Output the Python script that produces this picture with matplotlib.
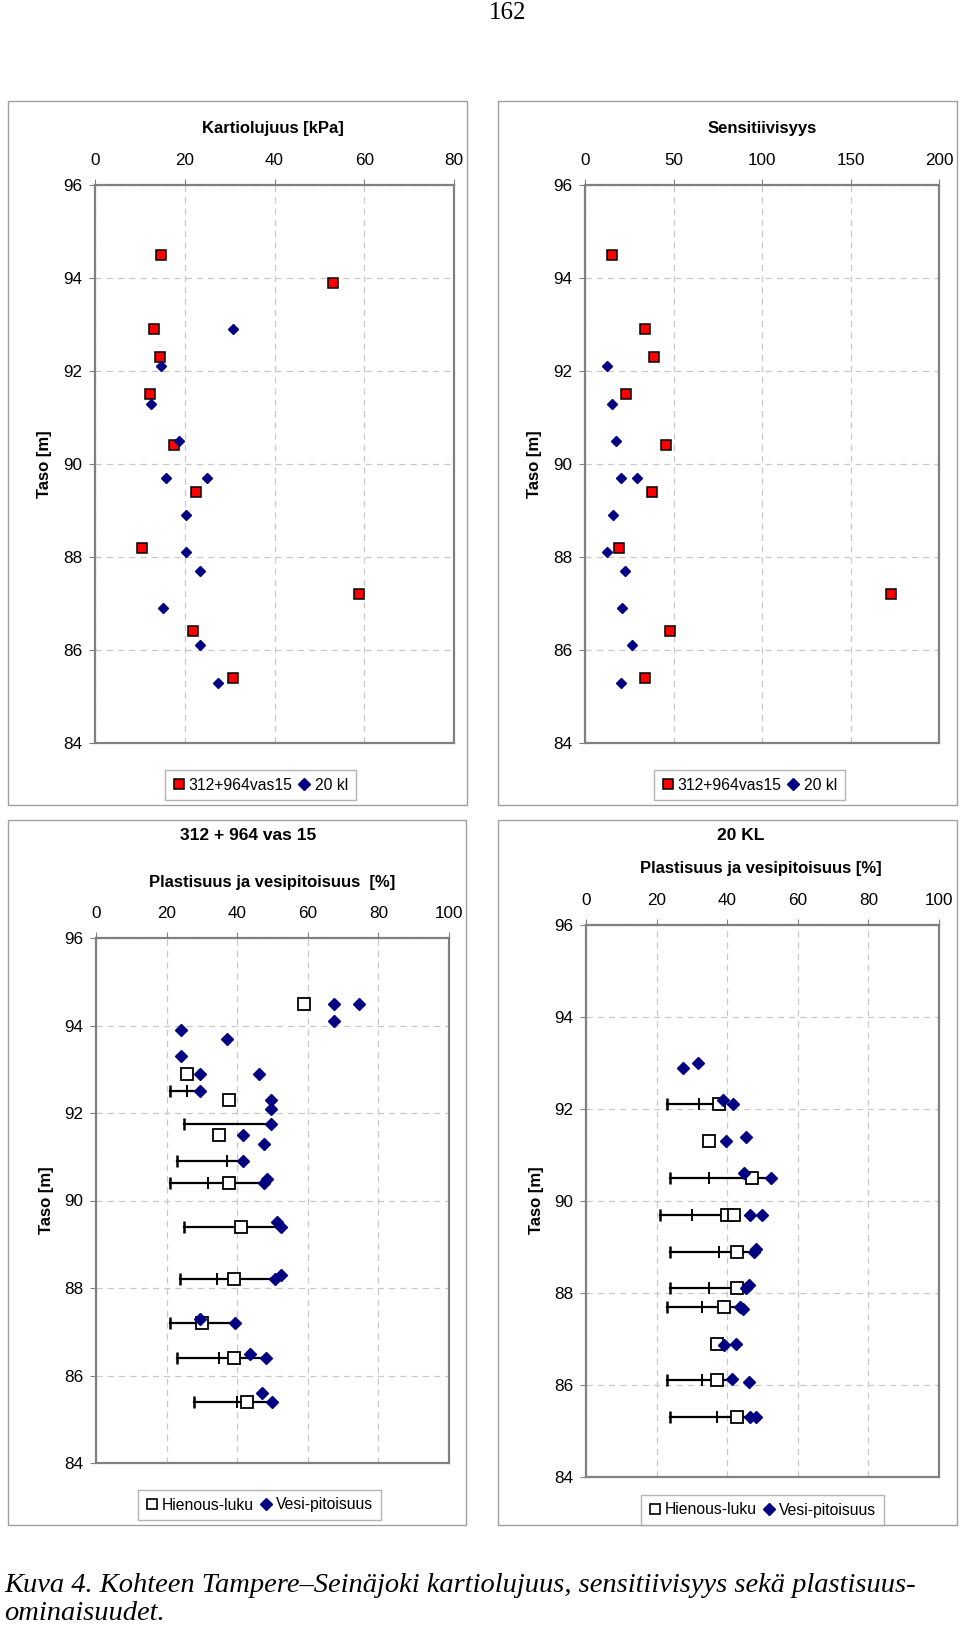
import numpy as np
import matplotlib
matplotlib.use("Agg")
from matplotlib import pyplot as plt
from matplotlib.patches import Rectangle
from matplotlib.lines import Line2D

plt.rcParams['font.family'] = ['Liberation Sans', 'DejaVu Sans']

# ---------------- data ----------------
# Kartiolujuus [kPa]
kart_vas_y = [94.5, 93.9, 92.9, 92.3, 91.5, 90.4, 89.4, 88.2, 87.2, 86.4, 85.4]
kart_vas_x = [14.8, 53.0, 13.1, 14.5, 12.2, 17.6, 22.6, 10.5, 58.8, 21.9, 30.7]
kart_kl_y = [92.9, 92.1, 91.3, 90.5, 89.7, 89.7, 88.9, 88.1, 87.7, 86.9, 86.1, 85.3]
kart_kl_x = [30.7, 14.8, 12.5, 18.7, 15.8, 24.9, 20.3, 20.3, 23.5, 15.1, 23.5, 27.4]

# Sensitiivisyys
sens_vas_y = [94.5, 92.9, 92.3, 91.5, 90.4, 89.4, 88.2, 87.2, 86.4, 85.4]
sens_vas_x = [15.2, 33.9, 38.9, 23.3, 45.7, 38.0, 19.2, 172.9, 48.0, 33.9]
sens_kl_y = [92.1, 91.3, 90.5, 89.7, 89.7, 88.9, 88.1, 87.7, 86.9, 86.1, 85.3]
sens_kl_x = [12.6, 15.2, 17.5, 20.1, 29.2, 16.0, 12.6, 22.6, 20.9, 26.7, 20.1]

# Plastisuus ja vesipitoisuus, 312 + 964 vas 15
hien_vas_y = [94.5, 92.9, 92.3, 91.5, 90.4, 89.4, 88.2, 87.2, 86.4, 85.4]
hien_vas_x = [58.8, 25.9, 37.8, 34.9, 37.8, 41.1, 39.0, 29.9, 39.0, 42.7]
vesi_vas_y = [94.5, 94.5, 94.1, 93.9, 93.7, 93.3, 92.9, 92.9, 92.5, 92.3, 92.1, 91.75,
              91.5, 91.3, 90.9, 90.5, 90.4, 89.5, 89.4, 88.3, 88.2, 87.3, 87.2, 86.5,
              86.4, 85.6, 85.4]
vesi_vas_x = [67.5, 74.5, 67.5, 24.2, 37.1, 24.2, 29.6, 46.1, 29.6, 49.5, 49.5, 49.5,
              41.7, 47.7, 41.7, 48.4, 47.7, 51.3, 52.3, 52.3, 50.7, 29.6, 39.5, 43.6,
              48.1, 46.9, 49.8]
raja_vas_y = [92.5, 91.75, 90.9, 90.4, 89.4, 88.2, 87.2, 86.4, 85.4]
raja_vas_lo = [21.0, 25.0, 23.0, 21.0, 25.0, 23.8, 21.0, 23.0, 27.9]
raja_vas_mid = [25.9, np.nan, 37.1, 31.8, 41.1, 34.2, 29.9, 34.9, 39.9]
raja_vas_hi = [29.6, 49.5, 41.7, 47.7, 52.3, 50.7, 39.5, 48.1, 49.8]

# Plastisuus ja vesipitoisuus, 20 KL
hien_kl_y = [92.1, 91.3, 90.5, 89.7, 89.7, 88.9, 88.1, 87.7, 86.9, 86.1, 85.3]
hien_kl_x = [37.8, 34.9, 46.9, 39.9, 41.9, 42.8, 42.8, 39.1, 37.0, 37.0, 42.8]
vesi_kl_y = [92.9, 93.0, 92.2, 92.1, 91.3, 91.4, 90.6, 90.5, 89.7, 89.7, 88.9, 88.95,
             88.1, 88.17, 87.7, 87.65, 86.86, 86.9, 86.12, 86.07, 85.3, 85.3]
vesi_kl_x = [27.6, 31.6, 38.8, 41.7, 39.6, 45.2, 44.9, 52.3, 46.6, 49.9, 47.5, 48.1,
             45.4, 46.3, 43.7, 44.5, 39.1, 42.4, 41.4, 46.3, 46.6, 48.2]
raja_kl_y = [92.1, 90.5, 89.7, 88.9, 88.1, 87.7, 86.1, 85.3]
raja_kl_lo = [22.9, 23.9, 21.1, 23.9, 23.9, 22.9, 22.9, 23.9]
raja_kl_mid = [32.0, 34.9, 30.0, 37.8, 34.9, 32.9, 32.9, 37.0]
raja_kl_hi = [37.8, 52.3, 39.9, 47.5, 45.4, 43.7, 41.4, 46.6]

W, H = 960, 1627
RED = '#ff0000'
NAVY = '#000080'
GRIDC = '#c8c8c8'
AXC = '#808080'
TICKFS = 12.3

fig = plt.figure(figsize=(W / 100, H / 100), dpi=100)


def px_rect(x0, y0, x1, y1):
    return [x0 / W, 1 - y1 / H, (x1 - x0) / W, (y1 - y0) / H]


def fx(x):
    return x / W


def fy(y):
    return 1 - y / H


def frame(x0, y0, x1, y1):
    fig.patches.append(Rectangle((fx(x0), fy(y1)), (x1 - x0) / W, (y1 - y0) / H,
                                 transform=fig.transFigure, fill=False,
                                 edgecolor='#a0a0a0', lw=1.0))


def style_axes(ax, xmax, xstep):
    ax.set_xlim(0, xmax)
    ax.set_ylim(84, 96)
    ax.set_xticks(np.arange(0, xmax + 1, xstep))
    ax.set_yticks(np.arange(84, 97, 2))
    ax.xaxis.tick_top()
    ax.tick_params(axis='x', direction='out', length=4, pad=8, labelsize=TICKFS,
                   color=AXC, top=True, bottom=False)
    ax.tick_params(axis='y', direction='out', length=4, pad=5, labelsize=TICKFS,
                   color=AXC)
    for s in ax.spines.values():
        s.set_color(AXC)
        s.set_linewidth(1.6)
    ax.grid(True, color=GRIDC, linestyle=(0, (5, 4)), linewidth=0.9)
    ax.set_axisbelow(True)


def red_blue(ax, xr, yr, xb, yb):
    ax.plot(xr, yr, ls='none', marker='s', ms=7, mfc=RED, mec='black', mew=1.1, zorder=3)
    ax.plot(xb, yb, ls='none', marker='D', ms=5.5, mfc=NAVY, mec=NAVY, zorder=3)


def plast(ax, hx, hy, vx, vy, by, lo, mid, hi):
    for y, a, m, b in zip(by, lo, mid, hi):
        ax.plot([a, b], [y, y], color='black', lw=1.6, zorder=2)
        ax.plot([a], [y], ls='none', marker='|', ms=9, mew=1.8, color='black', zorder=2)
        if not np.isnan(m):
            ax.plot([m], [y], ls='none', marker='|', ms=9, mew=1.4, color='black', zorder=2)
    ax.plot(hx, hy, ls='none', marker='s', ms=8, mfc='white', mec='black', mew=1.3, zorder=3)
    ax.plot(vx, vy, ls='none', marker='D', ms=6, mfc=NAVY, mec=NAVY, zorder=4)


def legend(x0, y0, x1, y1, handles, labels):
    leg = fig.legend(handles, labels, loc='center',
                     bbox_to_anchor=(fx((x0 + x1) / 2), fy((y0 + y1) / 2)),
                     bbox_transform=fig.transFigure, ncol=2, fontsize=11.3,
                     frameon=True, fancybox=False, handlelength=0.7,
                     handletextpad=0.3, columnspacing=0.4, borderpad=0.5,
                     borderaxespad=0.0, markerscale=1.0)
    leg.get_frame().set_edgecolor('#a0a0a0')
    leg.get_frame().set_linewidth(1.0)


# page number
fig.text(fx(508), fy(13), '162', ha='center', va='center', fontsize=18,
         family='Liberation Serif')

# frames
frame(8, 101, 467, 805)
frame(498, 101, 957, 805)
frame(8, 820, 466, 1525)
frame(498, 820, 957, 1525)

h_red = Line2D([], [], ls='none', marker='s', ms=7.5, mfc=RED, mec='black', mew=1.1)
h_blue = Line2D([], [], ls='none', marker='D', ms=6, mfc=NAVY, mec=NAVY)
h_open = Line2D([], [], ls='none', marker='s', ms=7.5, mfc='white', mec='black', mew=1.2)

# panel 1
ax1 = fig.add_axes(px_rect(95, 185, 454, 743))
style_axes(ax1, 80, 20)
red_blue(ax1, kart_vas_x, kart_vas_y, kart_kl_x, kart_kl_y)
fig.text(fx(273), fy(129), 'Kartiolujuus [kPa]', ha='center', va='center',
         fontsize=12, weight='bold')
fig.text(fx(45), fy(464), 'Taso [m]', ha='center', va='center', rotation=90,
         fontsize=12, weight='bold')
legend(167, 769, 354, 801, [h_red, h_blue], ['312+964vas15', '20 kl'])

# panel 2
ax2 = fig.add_axes(px_rect(585, 185, 939, 743))
style_axes(ax2, 200, 50)
red_blue(ax2, sens_vas_x, sens_vas_y, sens_kl_x, sens_kl_y)
fig.text(fx(762), fy(129), 'Sensitiivisyys', ha='center', va='center',
         fontsize=12, weight='bold')
fig.text(fx(535), fy(464), 'Taso [m]', ha='center', va='center', rotation=90,
         fontsize=12, weight='bold')
legend(656, 769, 843, 801, [h_red, h_blue], ['312+964vas15', '20 kl'])

# panel 3
ax3 = fig.add_axes(px_rect(96, 938, 449, 1463))
style_axes(ax3, 100, 20)
plast(ax3, hien_vas_x, hien_vas_y, vesi_vas_x, vesi_vas_y,
      raja_vas_y, raja_vas_lo, raja_vas_mid, raja_vas_hi)
fig.text(fx(248), fy(835), '312 + 964 vas 15', ha='center', va='center',
         fontsize=12.5, weight='bold')
fig.text(fx(272), fy(883), 'Plastisuus ja vesipitoisuus  [%]', ha='center',
         va='center', fontsize=12, weight='bold')
fig.text(fx(46), fy(1200), 'Taso [m]', ha='center', va='center', rotation=90,
         fontsize=12, weight='bold')
legend(139, 1489, 380, 1521, [h_open, h_blue], ['Hienous-luku', 'Vesi-pitoisuus'])

# panel 4
ax4 = fig.add_axes(px_rect(586, 925, 939, 1477))
style_axes(ax4, 100, 20)
plast(ax4, hien_kl_x, hien_kl_y, vesi_kl_x, vesi_kl_y,
      raja_kl_y, raja_kl_lo, raja_kl_mid, raja_kl_hi)
fig.text(fx(741), fy(835), '20 KL', ha='center', va='center',
         fontsize=12.5, weight='bold')
fig.text(fx(761), fy(869), 'Plastisuus ja vesipitoisuus [%]', ha='center',
         va='center', fontsize=12, weight='bold')
fig.text(fx(536), fy(1200), 'Taso [m]', ha='center', va='center', rotation=90,
         fontsize=12, weight='bold')
legend(642, 1494, 883, 1526, [h_open, h_blue], ['Hienous-luku', 'Vesi-pitoisuus'])

# caption
fig.text(fx(4), fy(1585), 'Kuva 4. Kohteen Tampere\u2013Seinäjoki kartiolujuus, '
         'sensitiivisyys sekä plastisuus-', ha='left', va='center', fontsize=20.5,
         family='Liberation Serif', style='italic')
fig.text(fx(4), fy(1614), 'ominaisuudet.', ha='left', va='center', fontsize=20.5,
         family='Liberation Serif', style='italic')

fig.savefig('out.png', dpi=100)
